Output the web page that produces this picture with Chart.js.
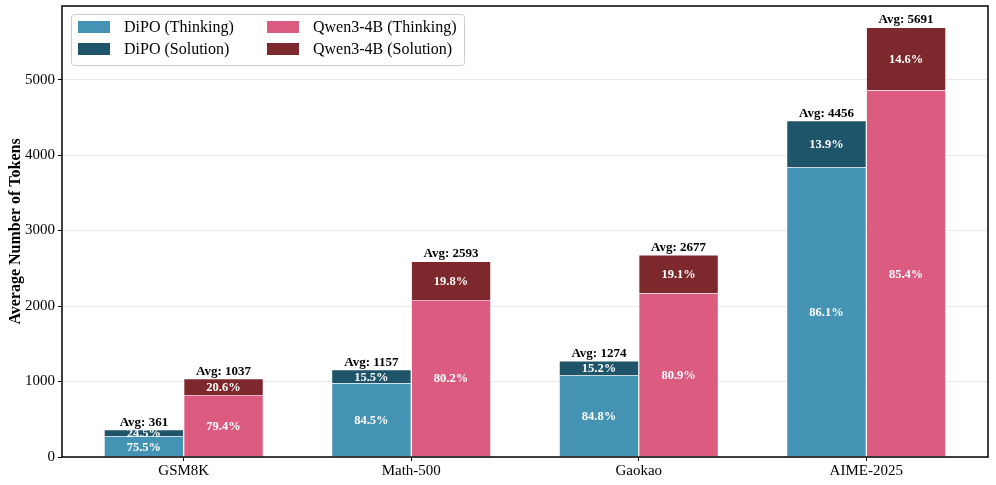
<!DOCTYPE html>
<html>
<head>
<meta charset="utf-8">
<script src="https://cdn.jsdelivr.net/npm/chart.js@4"></script>
<style>
html,body{margin:0;padding:0;background:#fff;}
#wrap{width:996px;height:485px;position:relative;}
</style>
</head>
<body>
<div id="wrap"><canvas id="c" width="996" height="485"></canvas></div>
<script>
const categories = ['GSM8K', 'Math-500', 'Gaokao', 'AIME-2025'];
const dipoThinking = [273, 978, 1080, 3837];
const dipoSolution = [88, 179, 194, 619];
const qwenThinking = [823, 2080, 2166, 4860];
const qwenSolution = [214, 513, 511, 831];
const dipoThinkingPct = ['75.5%', '84.5%', '84.8%', '86.1%'];
const dipoSolutionPct = ['24.5%', '15.5%', '15.2%', '13.9%'];
const qwenThinkingPct = ['79.4%', '80.2%', '80.9%', '85.4%'];
const qwenSolutionPct = ['20.6%', '19.8%', '19.1%', '14.6%'];
const yTicks = [0, 1000, 2000, 3000, 4000, 5000];

const FONT = "'Liberation Serif', 'DejaVu Serif', serif";
const pts = arr => arr.map((v, i) => ({x: i, y: v}));

const datasets = [
  {label: 'DiPO (Thinking)', data: pts(dipoThinking), stack: 'dipo', backgroundColor: '#4493B5', pct: dipoThinkingPct, top: false},
  {label: 'DiPO (Solution)', data: pts(dipoSolution), stack: 'dipo', backgroundColor: '#1F556A', pct: dipoSolutionPct, top: true},
  {label: 'Qwen3-4B (Thinking)', data: pts(qwenThinking), stack: 'qwen', backgroundColor: '#DC5B80', pct: qwenThinkingPct, top: false},
  {label: 'Qwen3-4B (Solution)', data: pts(qwenSolution), stack: 'qwen', backgroundColor: '#7D282C', pct: qwenSolutionPct, top: true}
];
datasets.forEach(d => { d.borderColor = 'rgba(255,255,255,0.5)'; d.borderWidth = 0.6; });

const labelPlugin = {
  id: 'labels',
  afterDatasetsDraw(chart) {
    const ctx = chart.ctx;
    ctx.save();
    ctx.textAlign = 'center';
    chart.data.datasets.forEach((ds, di) => {
      const meta = chart.getDatasetMeta(di);
      meta.data.forEach((bar, i) => {
        ctx.fillStyle = '#fff';
        ctx.font = "bold 12.5px " + FONT;
        ctx.textBaseline = 'middle';
        ctx.fillText(ds.pct[i], bar.x, (bar.y + bar.base) / 2 + 1);
        if (ds.top) {
          const total = chart.data.datasets
            .filter(o => o.stack === ds.stack)
            .reduce((s, o) => s + o.data[i].y, 0);
          ctx.fillStyle = '#000';
          ctx.font = "bold 13px " + FONT;
          ctx.textBaseline = 'bottom';
          ctx.fillText('Avg: ' + total, bar.x, bar.y - 1);
        }
      });
    });
    ctx.restore();
  },
  afterDraw(chart) {
    const ctx = chart.ctx;
    const a = chart.chartArea;
    ctx.save();
    ctx.strokeStyle = '#000';
    ctx.lineWidth = 1.5;
    ctx.strokeRect(a.left, a.top, a.right - a.left, a.bottom - a.top);
    const lx = a.left + 9, ly = a.top + 8, lw = 393, lh = 51;
    ctx.fillStyle = 'rgba(255,255,255,0.85)';
    ctx.strokeStyle = '#cccccc';
    ctx.lineWidth = 1;
    ctx.beginPath();
    if (ctx.roundRect) ctx.roundRect(lx + 0.5, ly + 0.5, lw, lh, 3); else ctx.rect(lx + 0.5, ly + 0.5, lw, lh);
    ctx.fill();
    ctx.stroke();
    const order = [[0, 0, 0], [1, 0, 1], [2, 1, 0], [3, 1, 1]];
    ctx.font = "16px " + FONT;
    ctx.textBaseline = 'middle';
    ctx.textAlign = 'left';
    order.forEach(([di, col, row]) => {
      const ds = chart.data.datasets[di];
      const px = lx + 7 + col * 189;
      const py = ly + 13 + row * 22;
      ctx.fillStyle = ds.backgroundColor;
      ctx.fillRect(px, py - 6, 32, 12);
      ctx.fillStyle = '#000';
      ctx.fillText(ds.label, px + 46, py + 1);
    });
    ctx.restore();
  }
};

new Chart(document.getElementById('c'), {
  type: 'bar',
  data: {datasets},
  plugins: [labelPlugin],
  options: {
    responsive: false,
    animation: false,
    devicePixelRatio: 1,
    layout: {padding: {top: 6, right: 8, left: 0, bottom: 0}},
    datasets: {bar: {categoryPercentage: 0.7, barPercentage: 1.0}},
    plugins: {legend: {display: false}, tooltip: {enabled: false}},
    scales: {
      x: {
        type: 'linear',
        stacked: true,
        offset: false,
        min: -0.535,
        max: 3.535,
        afterBuildTicks: s => { s.ticks = categories.map((c, i) => ({value: i})); },
        afterFit: s => { s.height = 28; s.paddingLeft = 0; s.paddingRight = 0; },
        ticks: {
          callback: v => categories[v],
          color: '#000',
          font: {family: FONT, size: 15},
          padding: 1,
          maxRotation: 0,
          autoSkip: false
        },
        grid: {offset: false, drawOnChartArea: false, drawTicks: true, tickLength: 4, tickColor: '#000', lineWidth: 1},
        border: {display: false}
      },
      y: {
        stacked: true,
        min: 0,
        max: 5975,
        afterBuildTicks: s => { s.ticks = yTicks.map(v => ({value: v})); },
        afterFit: s => { s.width = 62; s.paddingTop = 0; s.paddingBottom = 0; },
        ticks: {
          callback: v => String(v),
          color: '#000',
          font: {family: FONT, size: 15},
          padding: 3
        },
        grid: {color: '#e8e8e8', lineWidth: 1, drawTicks: true, tickLength: 4, tickColor: '#000'},
        border: {display: false},
        title: {
          display: true,
          text: 'Average Number of Tokens',
          color: '#000',
          font: {family: FONT, size: 16, weight: 'bold'},
          padding: {top: 6, bottom: 0}
        }
      }
    }
  }
});
</script>
</body>
</html>
